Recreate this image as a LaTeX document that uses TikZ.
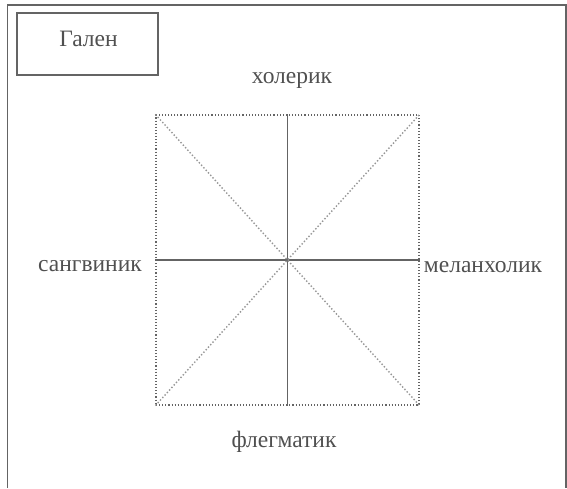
\documentclass[tikz,border=0pt]{standalone}
\usepackage{fontspec}
\setmainfont{Liberation Serif}
\usetikzlibrary{positioning}
\definecolor{galframe}{RGB}{100,100,100}
\definecolor{galtext}{RGB}{80,80,80}
\definecolor{galdiag}{RGB}{150,150,150}

\begin{document}
\begin{tikzpicture}[x=1pt, y=-1pt, font=\fontsize{23.5}{26}\selectfont,
  lbl/.style={text=galtext, inner sep=0pt, anchor=base},
  namebox/.style={draw=galframe, line width=1.6pt, minimum width=141pt,
    minimum height=62pt, inner sep=0pt},
  quad/.style={draw=galframe, dotted, line width=1.1pt, minimum width=263pt,
    minimum height=290pt, inner sep=0pt},
  axis/.style={draw=galframe, line width=1.4pt},
  diag/.style={draw=galdiag, dotted, line width=1.4pt}]
\useasboundingbox (0,0) rectangle (567,488);
\draw[galframe, line width=1.4pt] (7.5,488) -- (7.5,5) -- (566,5) -- (566,488);
\node[namebox] (galen) at (87.5,44) {};
\node[lbl] (galentxt) at (88.5,46) {Гален};
\node[quad] (sq) at (287.5,260) {};
\draw[axis] (sq.north) -- (sq.south);
\draw[axis] (sq.west) -- (sq.east);
\draw[diag] (sq.north west) -- (sq.south east);
\draw[diag] (sq.south west) -- (sq.north east);
\node[lbl] (chol) at (292,83) {холерик};
\node[lbl] (sang) at (90,271) {сангвиник};
\node[lbl] (mel) at (483,272) {меланхолик};
\node[lbl] (phleg) at (284,447) {флегматик};
\end{tikzpicture}
\end{document}
